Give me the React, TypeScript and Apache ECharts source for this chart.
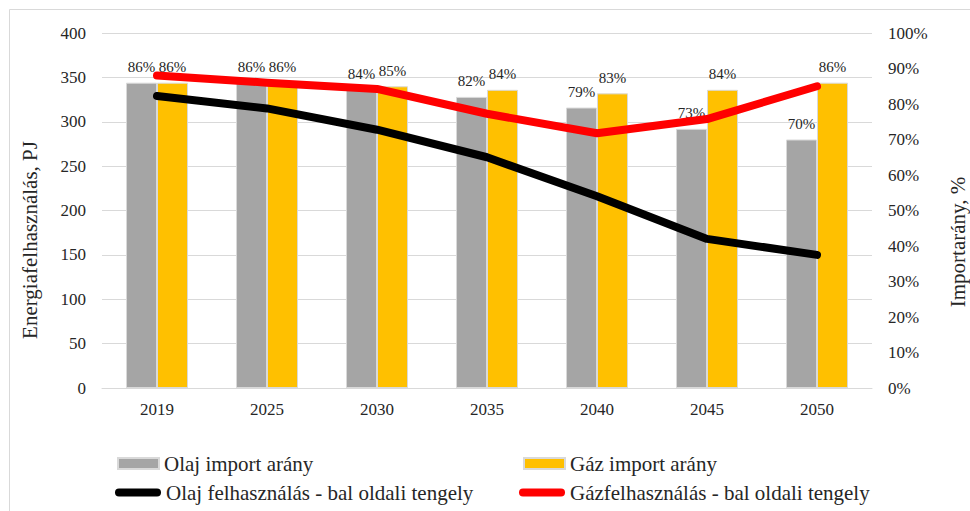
import React, { useEffect, useRef } from "react";
import * as echarts from "echarts";

const categories = ["2019", "2025", "2030", "2035", "2040", "2045", "2050"];
const oilImportShare = [86, 86, 84, 82, 79, 73, 70];
const gasImportShare = [86, 86, 85, 84, 83, 84, 86];
const oilUse = [329, 315, 291, 260, 216, 168, 150];
const gasUse = [352, 344, 337, 309, 287, 303, 340];

const leftTicks = { min: 0, max: 400, interval: 50 };
const rightTicks = { min: 0, max: 100, interval: 10 };

const FONT = "Liberation Serif";
const TXT = "#262626";
const PILL = "path://M4,0 H42 A4,4 0 0 1 42,8 H4 A4,4 0 0 1 4,0 Z";

export default function App() {
  const ref = useRef<HTMLDivElement>(null);
  useEffect(() => {
    if (!ref.current) return;
    const chart = echarts.init(ref.current, undefined, { renderer: "svg" });
    const barLabel = {
      show: true,
      position: "top" as const,
      distance: 8,
      formatter: "{c}%",
      fontFamily: FONT,
      fontSize: 15,
      color: TXT,
    };
    const legendBase = {
      orient: "horizontal" as const,
      itemGap: 0,
      padding: 0,
      textStyle: { fontFamily: FONT, fontSize: 21, color: TXT },
      selectedMode: false,
    };
    chart.setOption({
      animation: false,
      backgroundColor: "#ffffff",
      textStyle: { fontFamily: FONT },
      grid: { left: 102, right: 98, top: 33, bottom: 123, containLabel: false },
      xAxis: {
        type: "category",
        data: categories,
        axisLine: { lineStyle: { color: "#d9d9d9", width: 1 } },
        axisTick: { show: false },
        axisLabel: { fontFamily: FONT, fontSize: 17, color: TXT, margin: 13 },
      },
      yAxis: [
        {
          type: "value",
          ...leftTicks,
          axisLine: { show: false },
          axisTick: { show: false },
          splitLine: { lineStyle: { color: "#d9d9d9", width: 1 } },
          axisLabel: { fontFamily: FONT, fontSize: 17, color: TXT, margin: 16 },
        },
        {
          type: "value",
          ...rightTicks,
          position: "right",
          axisLine: { show: false },
          axisTick: { show: false },
          splitLine: { show: false },
          axisLabel: { fontFamily: FONT, fontSize: 17, color: TXT, margin: 16, formatter: "{value}%" },
        },
      ],
      legend: [
        { ...legendBase, left: 117, top: 453, itemWidth: 41, itemHeight: 11, icon: "rect", data: ["Olaj import arány"] },
        { ...legendBase, left: 523, top: 453, itemWidth: 41, itemHeight: 11, icon: "rect", data: ["Gáz import arány"] },
        { ...legendBase, left: 115, top: 482, itemWidth: 46, itemHeight: 9, icon: PILL, data: ["Olaj felhasználás - bal oldali tengely"] },
        { ...legendBase, left: 519, top: 482, itemWidth: 46, itemHeight: 9, icon: PILL, data: ["Gázfelhasználás - bal oldali tengely"] },
      ],
      series: [
        {
          name: "Olaj import arány",
          type: "bar",
          yAxisIndex: 1,
          data: oilImportShare,
          barWidth: 31,
          barGap: "0%",
          itemStyle: { color: "#a5a5a5", borderColor: "#d9d9d9", borderWidth: 1 },
          label: barLabel,
          z: 2,
        },
        {
          name: "Gáz import arány",
          type: "bar",
          yAxisIndex: 1,
          data: gasImportShare,
          barWidth: 31,
          barGap: "0%",
          itemStyle: { color: "#ffc000", borderColor: "#d9d9d9", borderWidth: 1 },
          label: barLabel,
          z: 2,
        },
        {
          name: "Olaj felhasználás - bal oldali tengely",
          type: "line",
          yAxisIndex: 0,
          data: oilUse,
          symbol: "none",
          itemStyle: { color: "#000000" },
          lineStyle: { color: "#000000", width: 8, cap: "round", join: "round" },
          z: 5,
        },
        {
          name: "Gázfelhasználás - bal oldali tengely",
          type: "line",
          yAxisIndex: 0,
          data: gasUse,
          symbol: "none",
          itemStyle: { color: "#ff0000" },
          lineStyle: { color: "#ff0000", width: 8, cap: "round", join: "round" },
          z: 6,
        },
      ],
      graphic: [
        {
          type: "rect",
          shape: { x: 9.5, y: 9.5, width: 1000, height: 600 },
          style: { fill: "none", stroke: "#d9d9d9", lineWidth: 1 },
          silent: true,
          z: -1,
        },
        {
          type: "text",
          x: 30,
          y: 240,
          rotation: Math.PI / 2,
          style: {
            text: "Energiafelhasználás, PJ",
            fontFamily: FONT,
            fontSize: 21,
            fill: TXT,
            align: "center",
            verticalAlign: "middle",
          },
        },
        {
          type: "text",
          x: 958,
          y: 242,
          rotation: Math.PI / 2,
          style: {
            text: "Importarány, %",
            fontFamily: FONT,
            fontSize: 21,
            fill: TXT,
            align: "center",
            verticalAlign: "middle",
          },
        },
      ],
    });
    return () => chart.dispose();
  }, []);
  return (
    <div
      ref={ref}
      style={{ position: "fixed", left: 0, top: 0, width: 970, height: 511, background: "#fff" }}
    />
  );
}
